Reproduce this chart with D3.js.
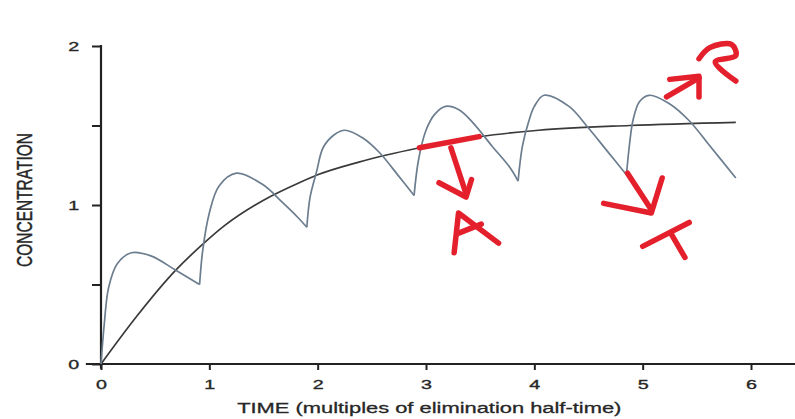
<!doctype html>
<html lang="en">
<head>
<meta charset="utf-8">
<title>Concentration vs time</title>
<script src="https://cdn.jsdelivr.net/npm/d3@7"></script>
<style>
  body { margin: 0; background: #fff; }
  svg { display: block; font-family: "Liberation Sans", Arial, sans-serif; }
</style>
</head>
<body>
<div id="chart"></div>
<script>
// ticks
const xTicks = [0, 1, 2, 3, 4, 5, 6];
const yTicks = [0, 0.5, 1, 1.5, 2];
const yLabelled = [0, 1, 2];

// repeated doses: one array of [time, concentration] per dosing interval
const dose1 = [[0, 0], [0.03, 0.25], [0.07, 0.48], [0.15, 0.63], [0.28, 0.70], [0.46, 0.68], [0.69, 0.59], [0.91, 0.50]];
const dose2 = [[0.91, 0.50], [0.94, 0.72], [1.0, 0.95], [1.09, 1.12], [1.25, 1.20], [1.49, 1.13], [1.67, 1.02], [1.82, 0.92], [1.90, 0.86]];
const dose3 = [[1.90, 0.86], [1.93, 1.05], [1.99, 1.21], [2.05, 1.36], [2.15, 1.44], [2.25, 1.47], [2.42, 1.42], [2.57, 1.33], [2.75, 1.18], [2.89, 1.06]];
const dose4 = [[2.89, 1.06], [2.93, 1.28], [3.0, 1.47], [3.08, 1.57], [3.18, 1.62], [3.30, 1.60], [3.43, 1.52], [3.61, 1.37], [3.77, 1.24], [3.85, 1.15]];
const dose5 = [[3.85, 1.15], [3.89, 1.37], [3.95, 1.53], [4.0, 1.62], [4.09, 1.69], [4.32, 1.62], [4.48, 1.50], [4.66, 1.35], [4.85, 1.19]];
const dose6 = [[4.85, 1.19], [4.88, 1.39], [4.91, 1.53], [4.97, 1.65], [5.06, 1.69], [5.24, 1.64], [5.43, 1.53], [5.61, 1.38], [5.86, 1.17]];

// continuous infusion curve
const infusion = [[0, 0], [0.33, 0.30], [0.69, 0.59], [0.95, 0.76], [1.14, 0.87], [1.5, 1.03], [1.83, 1.14], [2.0, 1.19],
  [2.38, 1.27], [2.94, 1.36], [3.5, 1.43], [4.04, 1.47], [4.88, 1.50], [5.86, 1.52]];

// red hand-written marks, in data units
const redStrokes = [
  [[2.94, 1.36], [3.49, 1.43]],                 // bar on the curve
  [[3.23, 1.36], [3.36, 1.09]],                 // arrow stem
  [[3.12, 1.14], [3.37, 1.05], [3.42, 1.16]],   // arrow head
  [[3.26, 0.70], [3.30, 0.95], [3.67, 0.76]],   // "A"
  [[3.29, 0.82], [3.51, 0.88]],
  [[4.86, 1.20], [5.08, 0.97]],                 // lower arrow
  [[4.64, 1.01], [5.08, 0.95], [5.18, 1.17]],
  [[5.00, 0.74], [5.43, 0.89]],                 // "T"
  [[5.27, 0.81], [5.39, 0.67]],
  [[5.22, 1.68], [5.52, 1.80]],                 // upper arrow
  [[5.25, 1.79], [5.52, 1.81], [5.52, 1.68]],
  [[5.52, 1.92], [5.62, 1.99], [5.82, 2.01], [5.86, 1.94], [5.67, 1.90], [5.86, 1.78]]  // "P"
];

const width = 795, height = 419;
const sx = 1.46; // the scan is stretched sideways

const x = d3.scaleLinear().domain([0, 6]).range([101, 751]);
const y = d3.scaleLinear().domain([0, 2]).range([364, 46]);

const svg = d3.select("#chart").append("svg")
    .attr("width", width)
    .attr("height", height)
    .attr("viewBox", [0, 0, width, height]);

svg.append("rect").attr("width", width).attr("height", height).attr("fill", "#fff");

const ink = "#262626";

// x axis
svg.append("g")
    .attr("transform", `translate(0,${y(0)})`)
    .call(d3.axisBottom(x).tickValues(xTicks).tickSize(6).tickPadding(9).tickFormat(d3.format("d")))
    .call(g => g.select(".domain").remove())
    .call(g => g.selectAll(".tick line").attr("stroke", "#222").attr("stroke-width", 2))
    .call(g => g.selectAll(".tick text")
        .attr("font-size", 13.5).attr("fill", ink)
        .attr("stroke", ink).attr("stroke-width", 0.35)
        .attr("transform", `scale(${sx},1)`));

svg.append("line")
    .attr("x1", x(-0.14)).attr("x2", x(6.5))
    .attr("y1", y(0)).attr("y2", y(0))
    .attr("stroke", "#222").attr("stroke-width", 2.2);

// y axis
svg.append("g")
    .attr("transform", `translate(${x(0)},0)`)
    .call(d3.axisLeft(y).tickValues(yTicks).tickSize(9).tickPadding(6)
        .tickFormat(d => yLabelled.includes(d) ? d3.format("d")(d) : ""))
    .call(g => g.select(".domain").remove())
    .call(g => g.selectAll(".tick line").attr("stroke", "#222").attr("stroke-width", 2))
    .call(g => g.selectAll(".tick text")
        .attr("font-size", 13.5).attr("fill", ink)
        .attr("stroke", ink).attr("stroke-width", 0.35)
        .attr("transform", `scale(${sx},1)`));

svg.append("line")
    .attr("x1", x(0)).attr("x2", x(0))
    .attr("y1", y(2) - 1).attr("y2", y(-0.03))
    .attr("stroke", "#222").attr("stroke-width", 2.2);

// axis titles
svg.append("text")
    .attr("transform", `translate(32,200) scale(${sx},1) rotate(-90)`)
    .attr("text-anchor", "middle")
    .attr("font-size", 15.5)
    .attr("fill", ink)
    .attr("stroke", ink).attr("stroke-width", 0.3)
    .text("CONCENTRATION");

svg.append("text")
    .attr("transform", `translate(${x(3.03)},413) scale(${sx},1)`)
    .attr("text-anchor", "middle")
    .attr("font-size", 15)
    .attr("fill", ink)
    .attr("stroke", ink).attr("stroke-width", 0.3)
    .text("TIME (multiples of elimination half-time)");

// infusion curve
svg.append("path")
    .datum(infusion)
    .attr("fill", "none")
    .attr("stroke", "#3a3a3a")
    .attr("stroke-width", 1.7)
    .attr("d", d3.line().x(d => x(d[0])).y(d => y(d[1])).curve(d3.curveMonotoneX));

// repeated-dose curve
const pulse = d3.line()
    .x(d => x(d[0]))
    .y(d => y(d[1]))
    .curve(d3.curveCatmullRom.alpha(0.5));

svg.append("g")
  .selectAll("path")
  .data([dose1, dose2, dose3, dose4, dose5, dose6])
  .join("path")
    .attr("fill", "none")
    .attr("stroke", "#6b7d8e")
    .attr("stroke-width", 1.7)
    .attr("stroke-linejoin", "round")
    .attr("d", pulse);

// red annotations
const pen = d3.line().x(d => x(d[0])).y(d => y(d[1])).curve(d3.curveLinear);
svg.append("g")
  .selectAll("path")
  .data(redStrokes)
  .join("path")
    .attr("fill", "none")
    .attr("stroke", "#e3202c")
    .attr("stroke-width", 5.5)
    .attr("stroke-linecap", "round")
    .attr("stroke-linejoin", "round")
    .attr("d", d => d.length > 4 ? pulse(d) : pen(d));
</script>
</body>
</html>
